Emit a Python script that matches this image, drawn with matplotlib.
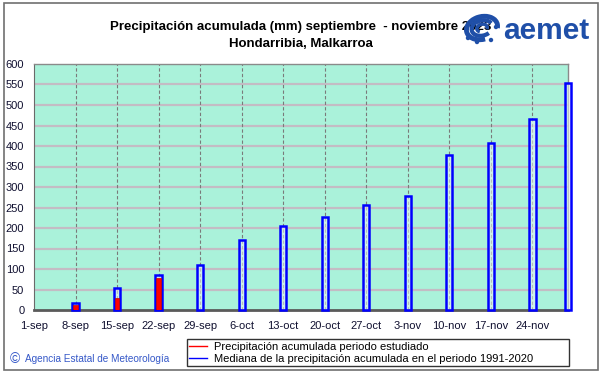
import numpy as np
import pandas as pd
import matplotlib
matplotlib.use("Agg")
import matplotlib.pyplot as plt
from matplotlib.lines import Line2D
from matplotlib.patches import Rectangle, Arc, Ellipse

plt.rcParams['font.family'] = ['Liberation Sans', 'DejaVu Sans']

# datos
inicio = "2023-09-01"
fechas_mediana = ["2023-09-08", "2023-09-15", "2023-09-22", "2023-09-29", "2023-10-06",
                  "2023-10-13", "2023-10-20", "2023-10-27", "2023-11-03", "2023-11-10",
                  "2023-11-17", "2023-11-24", "2023-11-30"]
mediana = [17, 54, 85, 109, 170, 206, 226, 255, 277, 379, 408, 466, 553]

fechas_obs = ["2023-09-08", "2023-09-15", "2023-09-22"]
observada = [12, 29, 79]

etiquetas_x = ["1-sep", "8-sep", "15-sep", "22-sep", "29-sep", "6-oct", "13-oct",
               "20-oct", "27-oct", "3-nov", "10-nov", "17-nov", "24-nov"]
fechas_x = ["2023-09-01", "2023-09-08", "2023-09-15", "2023-09-22", "2023-09-29",
            "2023-10-06", "2023-10-13", "2023-10-20", "2023-10-27", "2023-11-03",
            "2023-11-10", "2023-11-17", "2023-11-24"]


def dias(fechas):
    return (pd.to_datetime(fechas) - pd.Timestamp(inicio)).days.values


W, H = 601, 374


def px(x, y):
    return (x / W, 1 - y / H)


fig = plt.figure(figsize=(6.01, 3.74), dpi=100)
fig.patch.set_facecolor("white")

ax = fig.add_axes([34 / W, 1 - 310 / H, (568 - 34) / W, (310 - 64) / H])
ax.set_facecolor("#aaf2da")

x_med = dias(fechas_mediana)
x_obs = dias(fechas_obs)
x_tick = dias(fechas_x)

# rejilla
for v in range(50, 600, 50):
    ax.axhline(v, color="#c4bcc4", lw=1.6, zorder=1)
for t in x_tick[1:]:
    ax.axvline(t, color="#7a7a7a", lw=0.8, ls=(0, (3, 2)), zorder=1)

ax.bar(x_med, mediana, width=1.05, facecolor=(0.92, 0.95, 0.95, 0.55),
       edgecolor="#0000ff", lw=1.8, zorder=3, clip_on=False)
ax.bar(x_obs, observada, width=0.8, color="#ff0000", edgecolor="#c00000",
       lw=0.5, zorder=4)

ax.set_xlim(0, 90)
ax.set_ylim(0, 600)
ax.set_yticks(range(0, 601, 50))
ax.set_xticks(x_tick)
ax.set_xticklabels(etiquetas_x)
ax.tick_params(axis="both", length=0, labelsize=8, colors="#101030")
ax.tick_params(axis="x", pad=8)
ax.tick_params(axis="y", pad=7)

for lado in ["top", "right"]:
    ax.spines[lado].set_color("#8a8a8a")
    ax.spines[lado].set_linewidth(1)
ax.spines["left"].set_color("#6a6a6a")
ax.spines["bottom"].set_color("#5a5a5a")
ax.spines["bottom"].set_linewidth(2)

# titulo
fig.text(0.5, 1 - 27 / H, "Precipitación acumulada (mm) septiembre  - noviembre 2023",
         ha="center", va="center", fontsize=9.5, fontweight="bold")
fig.text(0.5, 1 - 44 / H, "Hondarribia, Malkarroa",
         ha="center", va="center", fontsize=9.5, fontweight="bold")

# logo aemet (encima del final del titulo)
azul = "#1f4fa8"
for (w, h, t1, t2, lw) in [(30, 24, 20, 300, 3.5), (20, 16, 60, 330, 3), (10, 8, 0, 270, 2.5)]:
    fig.patches.append(Arc(px(482, 28), w / W, h / H, angle=-20, theta1=t1, theta2=t2,
                           transform=fig.transFigure, color=azul, lw=lw, zorder=6))
for (cx, cy) in [(468, 38), (477, 42), (491, 40), (496, 27)]:
    fig.patches.append(Ellipse(px(cx, cy), 3 / W, 3 / H, transform=fig.transFigure,
                               color=azul, zorder=6))
fig.text(503 / W, 1 - 31 / H, "aemet", ha="left", va="center", fontsize=21.5,
         fontweight="bold", color=azul, zorder=7)

# leyenda
manejadores = [Line2D([], [], color="#ff0000", lw=1),
               Line2D([], [], color="#0000ff", lw=1)]
leg = fig.legend(manejadores,
                 ["Precipitación acumulada periodo estudiado",
                  "Mediana de la precipitación acumulada en el periodo 1991-2020"],
                 loc="lower left", bbox_to_anchor=(187 / W, 1 - 366 / H, (569 - 187) / W, 30 / H),
                 mode="expand", fontsize=8, handlelength=1.6, handletextpad=0.6,
                 labelspacing=0.2, borderpad=0.2, fancybox=False, borderaxespad=0)
leg.get_frame().set_edgecolor("black")
leg.get_frame().set_linewidth(1)

fig.text(10 / W, 1 - 359 / H, "©", ha="left", va="center", fontsize=10, color="#3558c8")
fig.text(25 / W, 1 - 359 / H, "Agencia Estatal de Meteorología", ha="left", va="center",
         fontsize=7.2, color="#3558c8")

# marco
fig.patches.append(Rectangle(px(4, 370), 594 / W, 367 / H, transform=fig.transFigure,
                             fill=False, edgecolor="#707070", lw=1.2))

fig.savefig("out.png", dpi=100)
